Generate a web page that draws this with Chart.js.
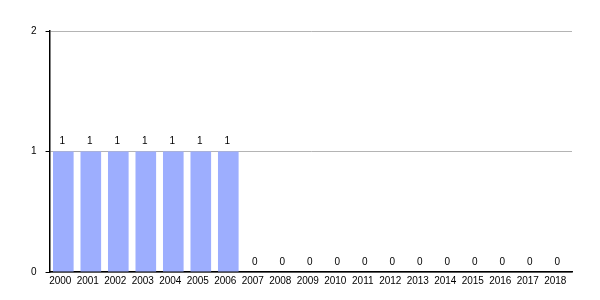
<!DOCTYPE html>
<html><head><meta charset="utf-8">
<script src="https://cdn.jsdelivr.net/npm/chart.js@4"></script>
<style>html,body{margin:0;padding:0;background:#fff}#w{width:600px;height:300px}</style>
</head><body><div id="w"><canvas id="c"></canvas></div>
<script>
const categories = ['2000','2001','2002','2003','2004','2005','2006','2007','2008','2009','2010','2011','2012','2013','2014','2015','2016','2017','2018'];
const values = [1,1,1,1,1,1,1,0,0,0,0,0,0,0,0,0,0,0,0];
const yTicks = [0,1,2];

const labelPlugin = {
  id: 'valLabels',
  afterDatasetsDraw(chart) {
    const ctx = chart.ctx;
    const meta = chart.getDatasetMeta(0);
    ctx.save();
    ctx.font = '10px "Liberation Sans", Arial, sans-serif';
    ctx.fillStyle = '#000';
    ctx.textAlign = 'center';
    ctx.textBaseline = 'bottom';
    meta.data.forEach((bar, i) => {
      ctx.fillText(String(values[i]), bar.x - 1, bar.y - 5);
    });
    ctx.restore();
  }
};

new Chart(document.getElementById('c'), {
  type: 'bar',
  data: { labels: categories, datasets: [{ data: values, backgroundColor: '#9daefe', barPercentage: 0.75, categoryPercentage: 1 }] },
  options: {
    responsive: true, maintainAspectRatio: false, animation: false,
    layout: { padding: { left: 22, right: 28, top: 31, bottom: 13 } },
    plugins: { legend: { display: false }, tooltip: { enabled: false } },
    scales: {
      x: {
        grid: { display: false, tickLength: 3 },
        border: { color: '#000', width: 1.5 },
        ticks: { color: '#000', font: { size: 10, family: '"Liberation Sans", Arial, sans-serif' }, maxRotation: 0, autoSkip: false, padding: 0, labelOffset: -3 }
      },
      y: {
        min: 0, max: 2,
        afterBuildTicks(s) { s.ticks = yTicks.map(v => ({ value: v })); },
        grid: { color: '#b4b4b4', tickColor: '#000', tickLength: 4, drawOnChartArea: true },
        border: { color: '#000', width: 1.5 },
        ticks: { color: '#000', font: { size: 10, family: '"Liberation Sans", Arial, sans-serif' }, padding: 9 }
      }
    }
  },
  plugins: [labelPlugin]
});
</script></body></html>
